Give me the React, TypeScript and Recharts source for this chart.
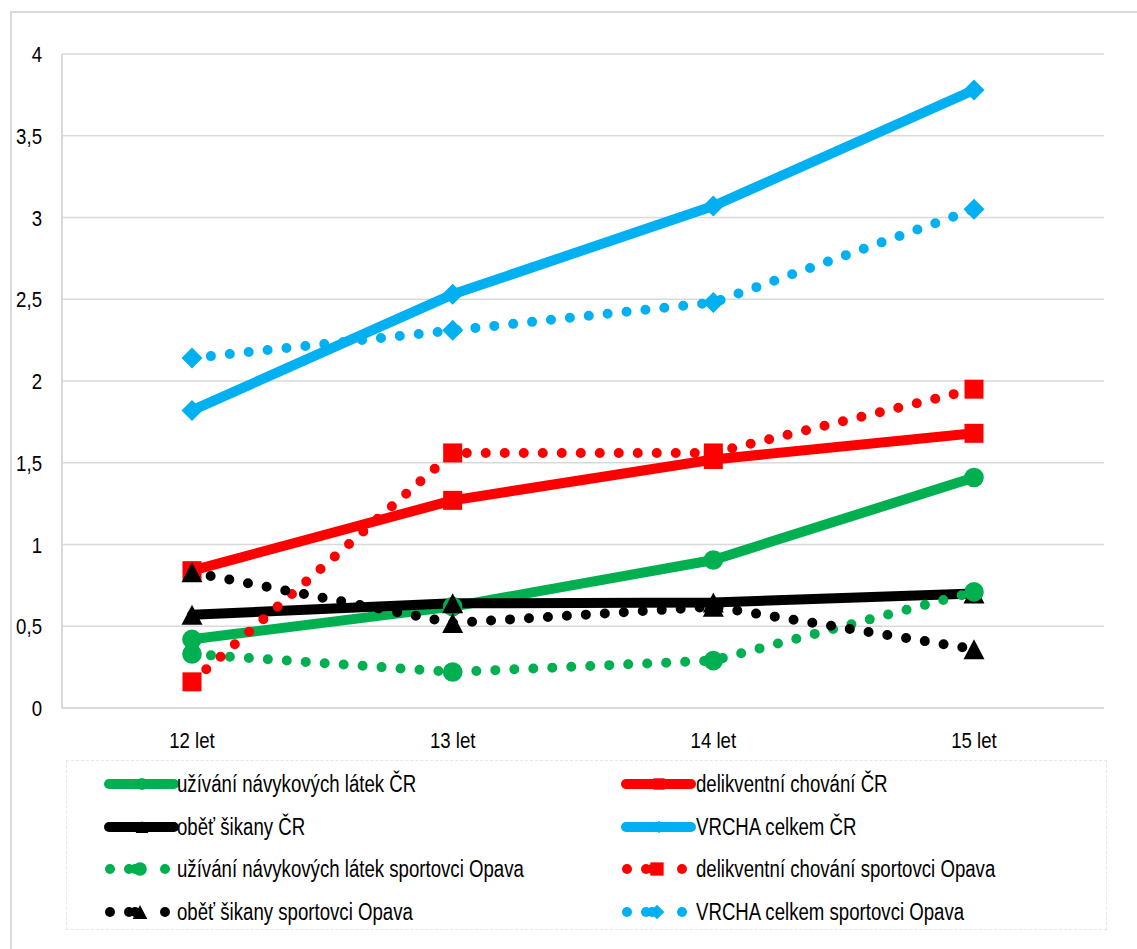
import React from 'react';
import { LineChart, Line, XAxis, YAxis, CartesianGrid, Legend } from 'recharts';

const categories = ['12 let', '13 let', '14 let', '15 let'];
const uzivaniCR = [0.42, 0.62, 0.905, 1.41];
const delikventniCR = [0.84, 1.27, 1.52, 1.68];
const obetCR = [0.57, 0.64, 0.645, 0.70];
const vrchaCR = [1.82, 2.53, 3.07, 3.78];
const uzivaniOpava = [0.33, 0.22, 0.29, 0.71];
const delikventniOpava = [0.16, 1.56, 1.56, 1.95];
const obetOpava = [0.83, 0.52, 0.62, 0.36];
const vrchaOpava = [2.14, 2.31, 2.48, 3.05];
const yTicks = [0, 0.5, 1, 1.5, 2, 2.5, 3, 3.5, 4];

const GREEN = '#00B050';
const RED = '#FF0000';
const BLACK = '#000000';
const BLUE = '#00B0F0';

type Shape = 'circle' | 'square' | 'triangle' | 'diamond';
interface SeriesDef { key: string; name: string; values: number[]; color: string; dotted: boolean; shape: Shape; }

const series: SeriesDef[] = [
  { key: 'uzCR', name: 'užívání návykových látek ČR', values: uzivaniCR, color: GREEN, dotted: false, shape: 'circle' },
  { key: 'delCR', name: 'delikventní chování ČR', values: delikventniCR, color: RED, dotted: false, shape: 'square' },
  { key: 'obCR', name: 'oběť šikany ČR', values: obetCR, color: BLACK, dotted: false, shape: 'triangle' },
  { key: 'vrCR', name: 'VRCHA celkem ČR', values: vrchaCR, color: BLUE, dotted: false, shape: 'diamond' },
  { key: 'uzOp', name: 'užívání návykových látek sportovci Opava', values: uzivaniOpava, color: GREEN, dotted: true, shape: 'circle' },
  { key: 'delOp', name: 'delikventní chování sportovci Opava', values: delikventniOpava, color: RED, dotted: true, shape: 'square' },
  { key: 'obOp', name: 'oběť šikany sportovci Opava', values: obetOpava, color: BLACK, dotted: true, shape: 'triangle' },
  { key: 'vrOp', name: 'VRCHA celkem sportovci Opava', values: vrchaOpava, color: BLUE, dotted: true, shape: 'diamond' },
];

const data = categories.map((c, i) => {
  const row: Record<string, string | number> = { cat: c };
  series.forEach((s) => { row[s.key] = s.values[i]; });
  return row;
});

const FONT = "'Liberation Sans', Arial, sans-serif";
const SQUEEZE = 0.81;
const FS = 23;
const GRID = '#d9d9d9';

function marker(shape: Shape, color: string, cx: number, cy: number, scale: number, key?: string | number) {
  if (shape === 'circle') return <circle key={key} cx={cx} cy={cy} r={9.8 * scale} fill={color} />;
  if (shape === 'square') {
    const h = 9.5 * scale;
    return <rect key={key} x={cx - h} y={cy - h} width={2 * h} height={2 * h} fill={color} />;
  }
  if (shape === 'triangle') {
    const w = 10.5 * scale;
    const h = 10 * scale;
    return <polygon key={key} points={`${cx},${cy - h} ${cx + w},${cy + h} ${cx - w},${cy + h}`} fill={color} />;
  }
  const d = 10.5 * scale;
  return <polygon key={key} points={`${cx},${cy - d} ${cx + d},${cy} ${cx},${cy + d} ${cx - d},${cy}`} fill={color} />;
}

function makeDot(s: SeriesDef) {
  return (props: any) => {
    const { cx, cy, index } = props;
    if (cx == null || cy == null) return <g key={`${s.key}-${index}`} />;
    return marker(s.shape, s.color, cx, cy, 1, `${s.key}-${index}`);
  };
}

function XTick(props: any) {
  const { x, y, payload } = props;
  return (
    <text transform={`translate(${x},${y}) scale(${SQUEEZE},1)`} textAnchor="middle" dy="0.71em" fontSize={FS} fontFamily={FONT} fill="#000">
      {payload.value}
    </text>
  );
}

const fmt = (v: number) => String(v).replace('.', ',');

function YTick(props: any) {
  const { x, y, payload } = props;
  return (
    <text transform={`translate(${x},${y}) scale(${SQUEEZE},1)`} textAnchor="end" dy="0.355em" fontSize={FS} fontFamily={FONT} fill="#000">
      {fmt(payload.value)}
    </text>
  );
}

function LegendIcon({ s }: { s: SeriesDef }) {
  if (!s.dotted) {
    return (
      <svg width={76} height={24} style={{ display: 'block' }}>
        <line x1={5} y1={12} x2={70} y2={12} stroke={s.color} strokeWidth={10} strokeLinecap="round" />
        {marker(s.shape, s.color, 38, 12, 0.6)}
      </svg>
    );
  }
  return (
    <svg width={76} height={24} style={{ display: 'block' }}>
      <circle cx={6} cy={12} r={5} fill={s.color} />
      <circle cx={25} cy={12} r={5} fill={s.color} />
      <circle cx={31} cy={12} r={5} fill={s.color} />
      {marker(s.shape, s.color, 36, 12, 0.7)}
      <circle cx={61} cy={12} r={5} fill={s.color} />
    </svg>
  );
}

function LegendBox() {
  const rows = [23, 66, 108, 151];
  return (
    <div style={{ position: 'relative', width: '100%', height: '100%' }}>
      {series.map((s, i) => {
        const row = Math.floor(i / 2);
        const col = i % 2;
        const iconLeft = col === 0 ? 37 : 554;
        const textLeft = col === 0 ? 110 : 629;
        const cy = rows[row];
        return (
          <React.Fragment key={s.key}>
            <div style={{ position: 'absolute', left: iconLeft, top: cy - 12 }}>
              <LegendIcon s={s} />
            </div>
            <div style={{ position: 'absolute', left: textLeft, top: cy - 14, fontFamily: FONT, fontSize: FS, lineHeight: '28px', color: '#000', whiteSpace: 'nowrap', transform: `scaleX(${SQUEEZE})`, transformOrigin: 'left center' }}>
              {s.name}
            </div>
          </React.Fragment>
        );
      })}
    </div>
  );
}

export default function App() {
  return (
    <div style={{ position: 'fixed', left: 0, top: 0, width: 1137, height: 949, overflow: 'hidden', background: '#fff' }}>
      <div style={{ position: 'absolute', left: 10, top: 11, width: 1200, height: 1000, border: `2px solid ${GRID}`, boxSizing: 'border-box' }} />
      <div style={{ position: 'absolute', left: 0, top: 0 }}>
        <LineChart width={1137} height={949} data={data} margin={{ top: 54, right: 33, bottom: 211, left: 18 }}>
          <CartesianGrid vertical={false} stroke={GRID} strokeWidth={1.5} />
          <XAxis
            dataKey="cat"
            interval={0}
            padding={{ left: 130, right: 130 }}
            axisLine={{ stroke: GRID, strokeWidth: 2 }}
            tickLine={false}
            tickMargin={18}
            tick={<XTick />}
            height={30}
          />
          <YAxis
            domain={[0, 4]}
            ticks={yTicks}
            width={44}
            axisLine={{ stroke: GRID, strokeWidth: 2 }}
            tickLine={false}
            tickMargin={14}
            tick={<YTick />}
          />
          <YAxis
            yAxisId="right"
            orientation="right"
            domain={[0, 4]}
            width={0}
            tick={false}
            tickLine={false}
            axisLine={{ stroke: GRID, strokeWidth: 2 }}
          />
          <Legend
            layout="vertical"
            align="center"
            verticalAlign="middle"
            wrapperStyle={{ position: 'absolute', left: 66, top: 760, width: 1041, height: 170, border: '1.5px dashed #e6e6e6', boxSizing: 'border-box' }}
            content={() => <LegendBox />}
          />
          {series.map((s) => (
            <Line
              key={s.key}
              dataKey={s.key}
              name={s.name}
              type="linear"
              stroke={s.color}
              strokeWidth={10}
              strokeDasharray={s.dotted ? '0 19' : undefined}
              strokeLinecap="round"
              strokeLinejoin="round"
              dot={makeDot(s)}
              activeDot={false}
              isAnimationActive={false}
            />
          ))}
        </LineChart>
      </div>
    </div>
  );
}
